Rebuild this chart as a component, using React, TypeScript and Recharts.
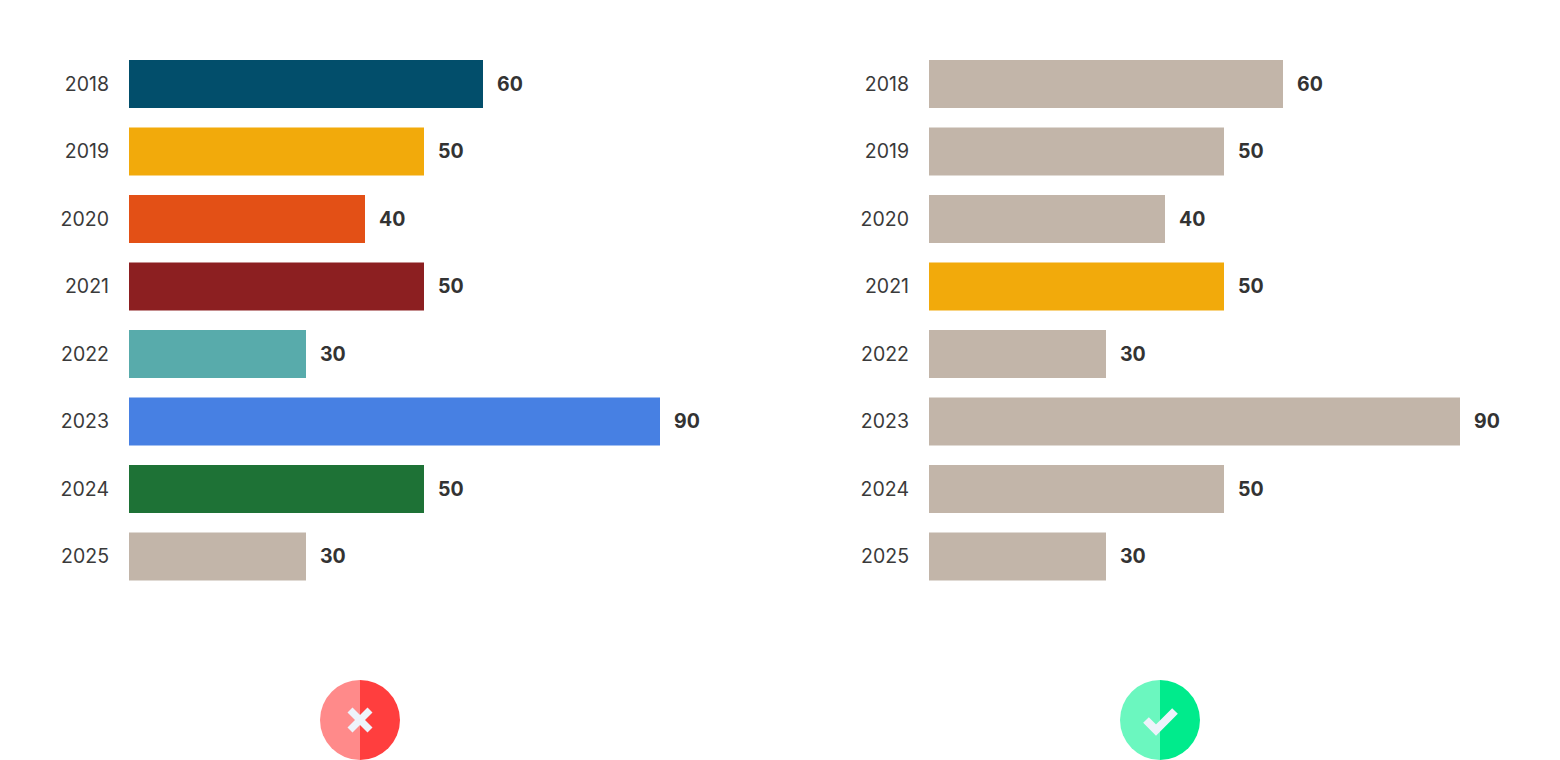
import { BarChart, Bar, XAxis, YAxis, Cell, LabelList } from 'recharts'

const YEARS = ['2018', '2019', '2020', '2021', '2022', '2023', '2024', '2025']
const VALUES = [60, 50, 40, 50, 30, 90, 50, 30]

const WRONG_COLORS = ['#024e6b', '#f2aa0b', '#e35016', '#8c1f21', '#58abab', '#4780e3', '#1e7236', '#c2b5a9']
const MUTED = '#c2b5a9'
const HIGHLIGHT = '#f2aa0b'
const HIGHLIGHT_YEAR = '2021'

const data = YEARS.map((year, i) => ({ year, value: VALUES[i] }))

const FONT = 'Inter, "Noto Sans", sans-serif'

function YearChart({ colors }: { colors: string[] }) {
  return (
    <BarChart
      width={780}
      height={600}
      data={data}
      layout="vertical"
      margin={{ top: 50, right: 61, bottom: 10, left: 0 }}
      barCategoryGap="14.8%"
    >
      <XAxis type="number" domain={[0, 100]} hide />
      <YAxis
        type="category"
        dataKey="year"
        width={129}
        axisLine={false}
        tickLine={false}
        tickSize={0}
        tickMargin={20}
        tick={{ fill: '#3a3a3a', fontSize: 19.5, fontFamily: FONT }}
      />
      <Bar dataKey="value" isAnimationActive={false}>
        {data.map((d, i) => (
          <Cell key={d.year} fill={colors[i]} />
        ))}
        <LabelList
          dataKey="value"
          position="right"
          offset={14}
          fill="#333"
          fontSize={19.5}
          fontWeight={700}
          fontFamily={FONT}
        />
      </Bar>
    </BarChart>
  )
}

function Badge({ ok }: { ok: boolean }) {
  const light = ok ? '#6bf7bf' : '#ff8a8a'
  const dark = ok ? '#00eb8c' : '#ff3e3e'
  return (
    <svg width={80} height={80} viewBox="0 0 80 80">
      <path d="M40 0 A40 40 0 0 0 40 80 Z" fill={light} />
      <path d="M40 0 A40 40 0 0 1 40 80 Z" fill={dark} />
      {ok ? (
        <path d="M26 40 L36 50 L55 31" stroke="#eef3fb" strokeWidth={8} fill="none" />
      ) : (
        <g stroke="#eef3fb" strokeWidth={7}>
          <line x1={30} y1={30} x2={50} y2={50} />
          <line x1={50} y1={30} x2={30} y2={50} />
        </g>
      )}
    </svg>
  )
}

export default function App() {
  const rightColors = YEARS.map(y => (y === HIGHLIGHT_YEAR ? HIGHLIGHT : MUTED))
  return (
    <div style={{ position: 'absolute', left: 0, top: 0, width: 1560, height: 760, background: '#fff' }}>
      <div style={{ position: 'absolute', left: 0, top: 0 }}>
        <YearChart colors={WRONG_COLORS} />
      </div>
      <div style={{ position: 'absolute', left: 800, top: 0 }}>
        <YearChart colors={rightColors} />
      </div>
      <div style={{ position: 'absolute', left: 320, top: 680 }}>
        <Badge ok={false} />
      </div>
      <div style={{ position: 'absolute', left: 1120, top: 680 }}>
        <Badge ok={true} />
      </div>
    </div>
  )
}
